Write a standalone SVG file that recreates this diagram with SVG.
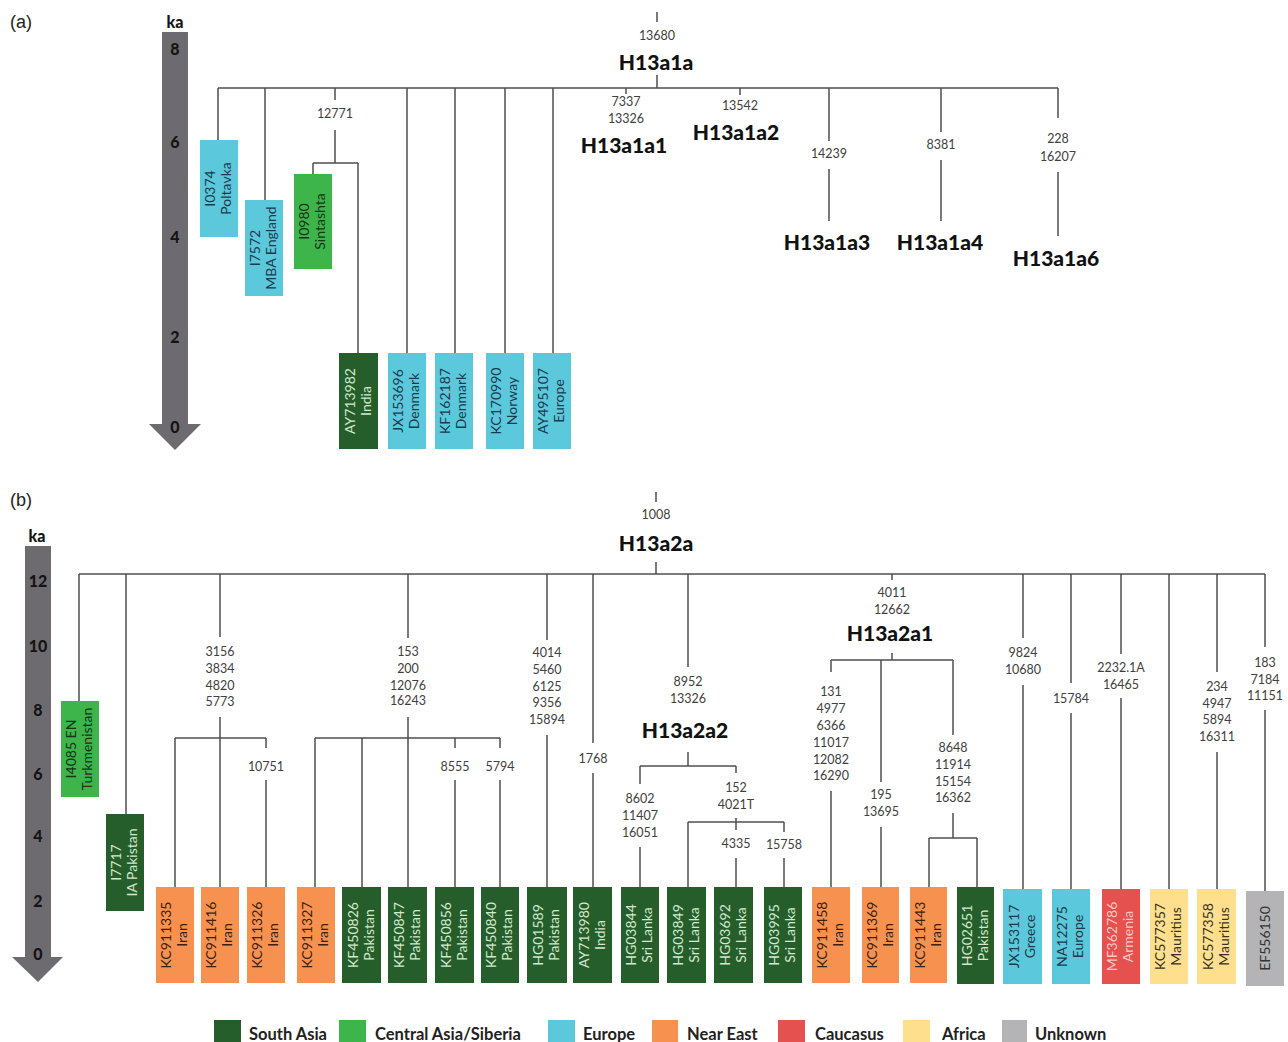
<svg xmlns="http://www.w3.org/2000/svg" width="1288" height="1042" viewBox="0 0 1288 1042">
<style>
.ln{stroke:#4f4f4f;stroke-width:1.5;fill:none}
.num{font-family:Lato,"Open Sans",sans-serif;font-size:12.5px;fill:#404040;text-anchor:middle}
.hl{font-family:Lato,"Open Sans",sans-serif;font-size:21px;font-weight:900;fill:#111;text-anchor:middle}
.ax{font-family:Lato,"Open Sans",sans-serif;font-size:16px;font-weight:900;fill:#141414;text-anchor:middle}
.axis{fill:#6e6b70}
.pl{font-family:"Liberation Sans",Arial,sans-serif;font-size:18px;fill:#222}
.bt{font-family:Lato,"Open Sans",sans-serif;font-size:14px;text-anchor:middle}
.lg{font-family:Lato,"Open Sans",sans-serif;font-size:16.5px;font-weight:bold;fill:#222}
.sa{fill:#265e2b}.tsa{fill:#d3e8cd}
.ca{fill:#3db54a}.tca{fill:#17331a}
.eu{fill:#5cc8dc}.teu{fill:#1d3a4c}
.ne{fill:#f79150}.tne{fill:#3a2213}
.cc{fill:#e5514f}.tcc{fill:#f9c9c6}
.af{fill:#fedf8e}.taf{fill:#3b3320}
.uk{fill:#b4b4b7}.tuk{fill:#333}
</style>

<!-- panel labels -->
<text class="pl" x="10" y="28">(a)</text>
<text class="pl" x="10" y="506">(b)</text>

<!-- time axes -->
<g id="axis-a">
<rect class="axis" x="162" y="32" width="26" height="393"/>
<polygon class="axis" points="149,424 201,424 175,450"/>
<text class="ax" x="175" y="28">ka</text>
<text class="ax" x="175" y="55">8</text>
<text class="ax" x="175" y="148">6</text>
<text class="ax" x="175" y="243">4</text>
<text class="ax" x="175" y="343">2</text>
<text class="ax" x="175" y="433">0</text>
</g>
<g id="axis-b">
<rect class="axis" x="25" y="546" width="26" height="412"/>
<polygon class="axis" points="12,957 63,957 38,982"/>
<text class="ax" x="37" y="542">ka</text>
<text class="ax" x="38" y="587">12</text>
<text class="ax" x="38" y="652">10</text>
<text class="ax" x="38" y="716">8</text>
<text class="ax" x="38" y="780">6</text>
<text class="ax" x="38" y="842">4</text>
<text class="ax" x="38" y="907">2</text>
<text class="ax" x="38" y="960">0</text>
</g>

<!-- connectors -->
<g id="connectors" class="ln">
<path d="M657 12V22M657 75V88M218 88H1058M218 88V140M265 88V200M335 88V100M335 130V163M313 163H358M313 163V174M358 163V353M407 88V353M455 88V353M505 88V353M553 88V353M626 88V94M740 88V95M829 88V141M829 169V221M941 88V132M941 160V221M1058 88V118M1058 172V236"/>
<path d="M656 492V502M656 562V574M79 574H1265M79 574V701M126 574V814M220 574V637M220 717V887M175 738H266M175 738V887M266 738V748M266 780V887M408 574V638M408 717V887M315 738H500M315 738V887M362 738V887M455 738V748M455 780V887M500 738V748M500 780V887M547 574V640M547 735V887M593 574V743M593 773V887M688 574V667M688 752V766M640 766H736M640 766V784M640 847V887M736 766V773M736 818V830M736 858V887M688 822H784M688 822V887M784 822V832M784 858V887M892 574V580M892 653V660M831 660H953M831 660V672M831 791V887M881 660V782M881 827V887M953 660V735M953 813V838M929 838H977M929 838V887M977 838V887M1023 574V638M1023 685V889M1071 574V683M1071 713V889M1121 574V654M1121 698V889M1169 574V889M1217 574V672M1217 752V889M1265 574V647M1265 710V891"/>
</g>

<!-- mutation labels -->
<g id="labels-a">
<text class="num" x="657" y="40">13680</text>
<text class="num" x="335" y="118">12771</text>
<text class="num" x="626" y="106">7337</text>
<text class="num" x="626" y="123">13326</text>
<text class="num" x="740" y="110">13542</text>
<text class="num" x="829" y="158">14239</text>
<text class="num" x="941" y="149">8381</text>
<text class="num" x="1058" y="143">228</text>
<text class="num" x="1058" y="161">16207</text>
</g>
<g id="labels-b">
<text class="num" x="656" y="519">1008</text>
<text class="num" x="220" y="656">3156</text>
<text class="num" x="220" y="673">3834</text>
<text class="num" x="220" y="690">4820</text>
<text class="num" x="220" y="706">5773</text>
<text class="num" x="266" y="771">10751</text>
<text class="num" x="408" y="656">153</text>
<text class="num" x="408" y="673">200</text>
<text class="num" x="408" y="690">12076</text>
<text class="num" x="408" y="705">16243</text>
<text class="num" x="455" y="771">8555</text>
<text class="num" x="500" y="771">5794</text>
<text class="num" x="547" y="657">4014</text>
<text class="num" x="547" y="674">5460</text>
<text class="num" x="547" y="691">6125</text>
<text class="num" x="547" y="707">9356</text>
<text class="num" x="547" y="724">15894</text>
<text class="num" x="593" y="763">1768</text>
<text class="num" x="688" y="686">8952</text>
<text class="num" x="688" y="703">13326</text>
<text class="num" x="640" y="803">8602</text>
<text class="num" x="640" y="820">11407</text>
<text class="num" x="640" y="837">16051</text>
<text class="num" x="736" y="792">152</text>
<text class="num" x="736" y="809">4021T</text>
<text class="num" x="736" y="848">4335</text>
<text class="num" x="784" y="849">15758</text>
<text class="num" x="892" y="597">4011</text>
<text class="num" x="892" y="614">12662</text>
<text class="num" x="831" y="696">131</text>
<text class="num" x="831" y="713">4977</text>
<text class="num" x="831" y="730">6366</text>
<text class="num" x="831" y="747">11017</text>
<text class="num" x="831" y="764">12082</text>
<text class="num" x="831" y="780">16290</text>
<text class="num" x="881" y="799">195</text>
<text class="num" x="881" y="816">13695</text>
<text class="num" x="953" y="752">8648</text>
<text class="num" x="953" y="769">11914</text>
<text class="num" x="953" y="786">15154</text>
<text class="num" x="953" y="802">16362</text>
<text class="num" x="1023" y="657">9824</text>
<text class="num" x="1023" y="674">10680</text>
<text class="num" x="1071" y="703">15784</text>
<text class="num" x="1121" y="672">2232.1A</text>
<text class="num" x="1121" y="689">16465</text>
<text class="num" x="1217" y="691">234</text>
<text class="num" x="1217" y="708">4947</text>
<text class="num" x="1217" y="724">5894</text>
<text class="num" x="1217" y="741">16311</text>
<text class="num" x="1265" y="667">183</text>
<text class="num" x="1265" y="684">7184</text>
<text class="num" x="1265" y="700">11151</text>
</g>

<!-- haplogroup nodes -->
<g id="H13a1a"><text class="hl" x="656" y="70">H13a1a</text></g>
<g id="H13a1a1"><text class="hl" x="624" y="153">H13a1a1</text></g>
<g id="H13a1a2"><text class="hl" x="736" y="140">H13a1a2</text></g>
<g id="H13a1a3"><text class="hl" x="827" y="250">H13a1a3</text></g>
<g id="H13a1a4"><text class="hl" x="940" y="250">H13a1a4</text></g>
<g id="H13a1a6"><text class="hl" x="1056" y="266">H13a1a6</text></g>
<g id="H13a2a"><text class="hl" x="656" y="551">H13a2a</text></g>
<g id="H13a2a1"><text class="hl" x="890" y="641">H13a2a1</text></g>
<g id="H13a2a2"><text class="hl" x="685" y="738">H13a2a2</text></g>

<!-- sample boxes panel a -->
<g id="I0374"><rect class="eu" x="200" y="140" width="38" height="97"/><g class="bt teu" transform="translate(219,188.5) rotate(-90)"><text y="-4">I0374</text><text y="12">Poltavka</text></g></g>
<g id="I7572"><rect class="eu" x="245" y="200" width="38" height="96"/><g class="bt teu" transform="translate(264,248) rotate(-90)"><text y="-4">I7572</text><text y="12">MBA England</text></g></g>
<g id="I0980"><rect class="ca" x="294" y="174" width="38" height="95"/><g class="bt tca" transform="translate(313,221.5) rotate(-90)"><text y="-4">I0980</text><text y="12">Sintashta</text></g></g>
<g id="AY713982"><rect class="sa" x="339" y="353" width="39" height="96"/><g class="bt tsa" transform="translate(358.5,401) rotate(-90)"><text y="-4">AY713982</text><text y="12">India</text></g></g>
<g id="JX153696"><rect class="eu" x="388" y="353" width="38" height="96"/><g class="bt teu" transform="translate(407,401) rotate(-90)"><text y="-4">JX153696</text><text y="12">Denmark</text></g></g>
<g id="KF162187"><rect class="eu" x="435" y="353" width="38" height="96"/><g class="bt teu" transform="translate(454,401) rotate(-90)"><text y="-4">KF162187</text><text y="12">Denmark</text></g></g>
<g id="KC170990"><rect class="eu" x="486" y="353" width="38" height="96"/><g class="bt teu" transform="translate(505,401) rotate(-90)"><text y="-4">KC170990</text><text y="12">Norway</text></g></g>
<g id="AY495107"><rect class="eu" x="533" y="353" width="38" height="96"/><g class="bt teu" transform="translate(552,401) rotate(-90)"><text y="-4">AY495107</text><text y="12">Europe</text></g></g>

<!-- sample boxes panel b -->
<g id="I4085"><rect class="ca" x="61" y="701" width="38" height="96"/><g class="bt tca" transform="translate(80,749) rotate(-90)"><text y="-4">I4085 EN</text><text y="12">Turkmenistan</text></g></g>
<g id="I7717"><rect class="sa" x="106" y="814" width="38" height="97"/><g class="bt tsa" transform="translate(125,862.5) rotate(-90)"><text y="-4">I7717</text><text y="12">IA Pakistan</text></g></g>
<g id="KC911335"><rect class="ne" x="156" y="887" width="38" height="96"/><g class="bt tne" transform="translate(175,935) rotate(-90)"><text y="-4">KC911335</text><text y="12">Iran</text></g></g>
<g id="KC911416"><rect class="ne" x="201" y="887" width="38" height="96"/><g class="bt tne" transform="translate(220,935) rotate(-90)"><text y="-4">KC911416</text><text y="12">Iran</text></g></g>
<g id="KC911326"><rect class="ne" x="247" y="887" width="38" height="96"/><g class="bt tne" transform="translate(266,935) rotate(-90)"><text y="-4">KC911326</text><text y="12">Iran</text></g></g>
<g id="KC911327"><rect class="ne" x="297" y="887" width="38" height="96"/><g class="bt tne" transform="translate(316,935) rotate(-90)"><text y="-4">KC911327</text><text y="12">Iran</text></g></g>
<g id="KF450826"><rect class="sa" x="342" y="887" width="39" height="96"/><g class="bt tsa" transform="translate(361.5,935) rotate(-90)"><text y="-4">KF450826</text><text y="12">Pakistan</text></g></g>
<g id="KF450847"><rect class="sa" x="388" y="887" width="39" height="96"/><g class="bt tsa" transform="translate(407.5,935) rotate(-90)"><text y="-4">KF450847</text><text y="12">Pakistan</text></g></g>
<g id="KF450856"><rect class="sa" x="435" y="887" width="39" height="96"/><g class="bt tsa" transform="translate(454.5,935) rotate(-90)"><text y="-4">KF450856</text><text y="12">Pakistan</text></g></g>
<g id="KF450840"><rect class="sa" x="481" y="887" width="38" height="96"/><g class="bt tsa" transform="translate(500,935) rotate(-90)"><text y="-4">KF450840</text><text y="12">Pakistan</text></g></g>
<g id="HG01589"><rect class="sa" x="527" y="887" width="40" height="96"/><g class="bt tsa" transform="translate(547,935) rotate(-90)"><text y="-4">HG01589</text><text y="12">Pakistan</text></g></g>
<g id="AY713980"><rect class="sa" x="573" y="887" width="39" height="96"/><g class="bt tsa" transform="translate(592.5,935) rotate(-90)"><text y="-4">AY713980</text><text y="12">India</text></g></g>
<g id="HG03844"><rect class="sa" x="621" y="887" width="38" height="96"/><g class="bt tsa" transform="translate(640,935) rotate(-90)"><text y="-4">HG03844</text><text y="12">Sri Lanka</text></g></g>
<g id="HG03849"><rect class="sa" x="667" y="887" width="39" height="96"/><g class="bt tsa" transform="translate(686.5,935) rotate(-90)"><text y="-4">HG03849</text><text y="12">Sri Lanka</text></g></g>
<g id="HG03692"><rect class="sa" x="714" y="887" width="39" height="96"/><g class="bt tsa" transform="translate(733.5,935) rotate(-90)"><text y="-4">HG03692</text><text y="12">Sri Lanka</text></g></g>
<g id="HG03995"><rect class="sa" x="764" y="887" width="38" height="96"/><g class="bt tsa" transform="translate(783,935) rotate(-90)"><text y="-4">HG03995</text><text y="12">Sri Lanka</text></g></g>
<g id="KC911458"><rect class="ne" x="812" y="887" width="38" height="96"/><g class="bt tne" transform="translate(831,935) rotate(-90)"><text y="-4">KC911458</text><text y="12">Iran</text></g></g>
<g id="KC911369"><rect class="ne" x="862" y="887" width="37" height="96"/><g class="bt tne" transform="translate(880.5,935) rotate(-90)"><text y="-4">KC911369</text><text y="12">Iran</text></g></g>
<g id="KC911443"><rect class="ne" x="910" y="887" width="37" height="96"/><g class="bt tne" transform="translate(928.5,935) rotate(-90)"><text y="-4">KC911443</text><text y="12">Iran</text></g></g>
<g id="HG02651"><rect class="sa" x="957" y="887" width="37" height="97"/><g class="bt tsa" transform="translate(975.5,935.5) rotate(-90)"><text y="-4">HG02651</text><text y="12">Pakistan</text></g></g>
<g id="JX153117"><rect class="eu" x="1003" y="889" width="39" height="95"/><g class="bt teu" transform="translate(1022.5,936.5) rotate(-90)"><text y="-4">JX153117</text><text y="12">Greece</text></g></g>
<g id="NA12275"><rect class="eu" x="1052" y="889" width="38" height="95"/><g class="bt teu" transform="translate(1071,936.5) rotate(-90)"><text y="-4">NA12275</text><text y="12">Europe</text></g></g>
<g id="MF362786"><rect class="cc" x="1102" y="889" width="38" height="95"/><g class="bt tcc" transform="translate(1121,936.5) rotate(-90)"><text y="-4">MF362786</text><text y="12">Armenia</text></g></g>
<g id="KC577357"><rect class="af" x="1150" y="889" width="38" height="95"/><g class="bt taf" transform="translate(1169,936.5) rotate(-90)"><text y="-4">KC577357</text><text y="12">Mauritius</text></g></g>
<g id="KC577358"><rect class="af" x="1197" y="889" width="39" height="95"/><g class="bt taf" transform="translate(1216.5,936.5) rotate(-90)"><text y="-4">KC577358</text><text y="12">Mauritius</text></g></g>
<g id="EF556150"><rect class="uk" x="1246" y="891" width="38" height="95"/><g class="bt tuk" transform="translate(1265,938.5) rotate(-90)"><text y="5">EF556150</text></g></g>

<!-- legend -->
<g id="legend">
<rect class="sa" x="214" y="1020" width="27" height="22"/><text class="lg" x="249" y="1040">South Asia</text>
<rect class="ca" x="339" y="1020" width="27" height="22"/><text class="lg" x="375" y="1040">Central Asia/Siberia</text>
<rect class="eu" x="548" y="1020" width="27" height="22"/><text class="lg" x="583" y="1040">Europe</text>
<rect class="ne" x="652" y="1020" width="26" height="22"/><text class="lg" x="687" y="1040">Near East</text>
<rect class="cc" x="778" y="1020" width="27" height="22"/><text class="lg" x="815" y="1040">Caucasus</text>
<rect class="af" x="903" y="1020" width="27" height="22"/><text class="lg" x="942" y="1040">Africa</text>
<rect class="uk" x="1002" y="1020" width="25" height="22"/><text class="lg" x="1035" y="1040">Unknown</text>
</g>
</svg>
